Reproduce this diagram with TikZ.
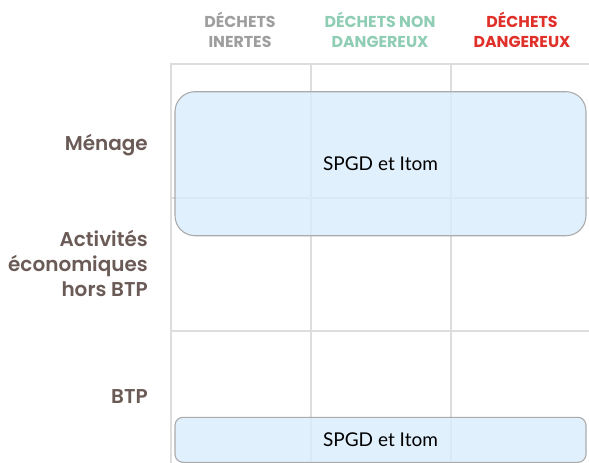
\documentclass[tikz,border=0pt]{standalone}
\usepackage{fontspec}
\setmainfont{Lato}
\newfontfamily\headfont{Poppins}[UprightFont=* Bold]
\newfontfamily\labfont{Poppins}[UprightFont=* SemiBold]
\definecolor{gridc}{HTML}{DDDDDD}
\definecolor{boxfill}{HTML}{D9ECFC}
\definecolor{boxline}{HTML}{ABABAB}
\definecolor{hgray}{HTML}{9E9E9E}
\definecolor{hteal}{HTML}{8FCDB4}
\definecolor{hred}{HTML}{E0302A}
\definecolor{labc}{HTML}{6B5B57}
\tikzset{
  gridline/.style={draw=gridc, line width=1.2pt},
  head/.style={font=\headfont\fontsize{15.8}{19.5}\selectfont, align=center, inner sep=0pt},
  rowlab/.style={font=\labfont\fontsize{20}{25}\selectfont, align=right, anchor=east, inner sep=0pt, text=labc},
  spgd/.style={draw=boxline, line width=1.1pt, fill=boxfill, fill opacity=0.8, text opacity=1,
    font=\fontsize{19}{22}\selectfont, inner sep=0pt},
}
\begin{document}
\begin{tikzpicture}[x=1pt,y=-1pt]
\useasboundingbox (0,0) rectangle (589,463);
% grid
\draw[gridline] (171,463) -- (171,64) -- (589,64);
\draw[gridline] (311,64) -- (311,463);
\draw[gridline] (451,64) -- (451,463);
\draw[gridline] (171,198) -- (589,198);
\draw[gridline] (171,331) -- (589,331);
% headers
\node[head, text=hgray] (h1) at (240,30) {DÉCHETS\\INERTES};
\node[head, text=hteal] (h2) at (380,30) {DÉCHETS NON\\DANGEREUX};
\node[head, text=hred] (h3) at (522,30) {DÉCHETS\\DANGEREUX};
% row labels
\node[rowlab] (r1) at (148,145) {Ménage};
\node[rowlab] (r2) at (148,263) {Activités\\économiques\\hors BTP};
\node[rowlab] (r3) at (148,397) {BTP};
% boxes
\node[spgd, rounded corners=20pt, minimum width=411pt, minimum height=144pt] (b1) at (380.5,163.7) {SPGD et Itom};
\node[spgd, rounded corners=8pt, minimum width=411pt, minimum height=45pt] (b2) at (380.5,439.8) {SPGD et Itom};
\end{tikzpicture}
\end{document}
